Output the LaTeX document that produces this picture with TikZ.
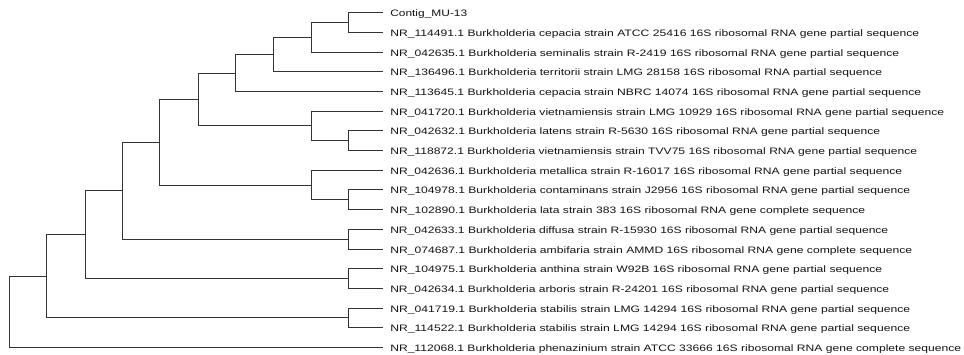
\documentclass[tikz,border=0pt]{standalone}
\usepackage{fontspec}
\setmainfont{Liberation Sans}
\usepackage{graphicx}
\newlength\pxu
\setlength\pxu{0.75pt}
\newcommand\fitw[2]{\resizebox{#1\pxu}{\height}{#2}}
\begin{document}
\begin{tikzpicture}[x=0.75pt,y=-0.75pt,
  branch/.style={draw=black!80, line width=1.15pt},
  leaflabel/.style={anchor=base west, inner sep=0pt, text=black!92, font=\fontsize{7}{8}\selectfont}]
\useasboundingbox[fill=white] (0,0) rectangle (964,354);
% leaf tips
\coordinate (l0) at (383,12.5);
\coordinate (l1) at (383,32.5);
\coordinate (l2) at (383,52.5);
\coordinate (l3) at (383,71.5);
\coordinate (l4) at (383,91.5);
\coordinate (l5) at (383,111.5);
\coordinate (l6) at (383,130.5);
\coordinate (l7) at (383,150.5);
\coordinate (l8) at (383,170.5);
\coordinate (l9) at (383,189.5);
\coordinate (l10) at (383,209.5);
\coordinate (l11) at (383,229.5);
\coordinate (l12) at (383,249.5);
\coordinate (l13) at (383,268.5);
\coordinate (l14) at (383,288.5);
\coordinate (l15) at (383,308.5);
\coordinate (l16) at (383,327.5);
\coordinate (l17) at (383,347.5);
% internal nodes
\coordinate (nA) at (348.5,22.5);
\coordinate (nB) at (311.5,37.5);
\coordinate (nC) at (273.5,54.5);
\coordinate (nD) at (235.5,73.5);
\coordinate (nG) at (348.5,140.5);
\coordinate (nF) at (311.5,125.5);
\coordinate (nE) at (198.5,99.5);
\coordinate (nJ) at (348.5,199.5);
\coordinate (nI) at (311.5,185.5);
\coordinate (nH) at (159.5,142.5);
\coordinate (nL) at (348.5,239.5);
\coordinate (nK) at (122.5,190.5);
\coordinate (nN) at (348.5,278.5);
\coordinate (nM) at (85.5,234.5);
\coordinate (nP) at (348.5,317.5);
\coordinate (nO) at (46.5,276.5);
\coordinate (nR) at (9.5,311.5);
% branches
\draw[branch] (l0) -| (nA) |- (l1);
\draw[branch] (nA) -| (nB) |- (l2);
\draw[branch] (nB) -| (nC) |- (l3);
\draw[branch] (nC) -| (nD) |- (l4);
\draw[branch] (l6) -| (nG) |- (l7);
\draw[branch] (l5) -| (nF) |- (nG);
\draw[branch] (nD) -| (nE) |- (nF);
\draw[branch] (l9) -| (nJ) |- (l10);
\draw[branch] (l8) -| (nI) |- (nJ);
\draw[branch] (nE) -| (nH) |- (nI);
\draw[branch] (l11) -| (nL) |- (l12);
\draw[branch] (nH) -| (nK) |- (nL);
\draw[branch] (l13) -| (nN) |- (l14);
\draw[branch] (nK) -| (nM) |- (nN);
\draw[branch] (l15) -| (nP) |- (l16);
\draw[branch] (nM) -| (nO) |- (nP);
\draw[branch] (nO) -| (nR) |- (l17);
% labels
\node[leaflabel] (t0) at (390,16.0) {\fitw{77}{Contig\_MU-13}};
\node[leaflabel] (t1) at (390,36.0) {\fitw{529}{NR\_114491.1 Burkholderia cepacia strain ATCC 25416 16S ribosomal RNA gene partial sequence}};
\node[leaflabel] (t2) at (390,56.0) {\fitw{509}{NR\_042635.1 Burkholderia seminalis strain R-2419 16S ribosomal RNA gene partial sequence}};
\node[leaflabel] (t3) at (390,75.0) {\fitw{492}{NR\_136496.1 Burkholderia territorii strain LMG 28158 16S ribosomal RNA partial sequence}};
\node[leaflabel] (t4) at (390,95.0) {\fitw{531}{NR\_113645.1 Burkholderia cepacia strain NBRC 14074 16S ribosomal RNA gene partial sequence}};
\node[leaflabel] (t5) at (390,115.0) {\fitw{554}{NR\_041720.1 Burkholderia vietnamiensis strain LMG 10929 16S ribosomal RNA gene partial sequence}};
\node[leaflabel] (t6) at (390,134.0) {\fitw{490}{NR\_042632.1 Burkholderia latens strain R-5630 16S ribosomal RNA gene partial sequence}};
\node[leaflabel] (t7) at (390,154.0) {\fitw{527}{NR\_118872.1 Burkholderia vietnamiensis strain TVV75 16S ribosomal RNA gene partial sequence}};
\node[leaflabel] (t8) at (390,174.0) {\fitw{512}{NR\_042636.1 Burkholderia metallica strain R-16017 16S ribosomal RNA gene partial sequence}};
\node[leaflabel] (t9) at (390,193.0) {\fitw{520}{NR\_104978.1 Burkholderia contaminans strain J2956 16S ribosomal RNA gene partial sequence}};
\node[leaflabel] (t10) at (390,213.0) {\fitw{475}{NR\_102890.1 Burkholderia lata strain 383 16S ribosomal RNA gene complete sequence}};
\node[leaflabel] (t11) at (390,233.0) {\fitw{498}{NR\_042633.1 Burkholderia diffusa strain R-15930 16S ribosomal RNA gene partial sequence}};
\node[leaflabel] (t12) at (390,253.0) {\fitw{522}{NR\_074687.1 Burkholderia ambifaria strain AMMD 16S ribosomal RNA gene complete sequence}};
\node[leaflabel] (t13) at (390,272.0) {\fitw{492}{NR\_104975.1 Burkholderia anthina strain W92B 16S ribosomal RNA gene partial sequence}};
\node[leaflabel] (t14) at (390,292.0) {\fitw{499}{NR\_042634.1 Burkholderia arboris strain R-24201 16S ribosomal RNA gene partial sequence}};
\node[leaflabel] (t15) at (390,312.0) {\fitw{520}{NR\_041719.1 Burkholderia stabilis strain LMG 14294 16S ribosomal RNA gene partial sequence}};
\node[leaflabel] (t16) at (390,331.0) {\fitw{520}{NR\_114522.1 Burkholderia stabilis strain LMG 14294 16S ribosomal RNA gene partial sequence}};
\node[leaflabel] (t17) at (390,351.0) {\fitw{571}{NR\_112068.1 Burkholderia phenazinium strain ATCC 33666 16S ribosomal RNA gene complete sequence}};
\end{tikzpicture}
\end{document}
